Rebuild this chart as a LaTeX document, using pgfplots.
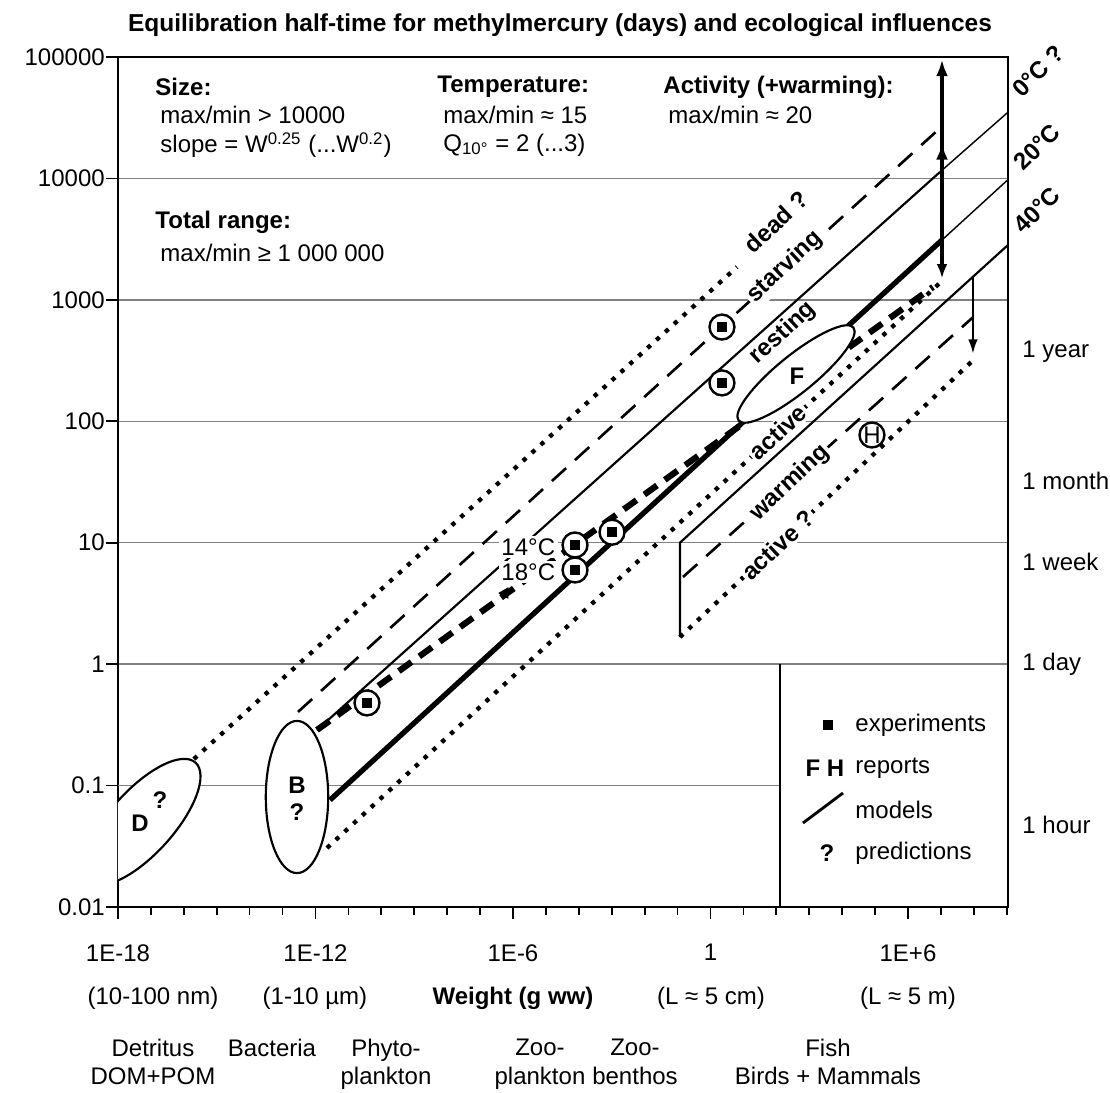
\documentclass[border=0pt]{standalone}
\usepackage{fontspec}
\setmainfont{Liberation Sans}
\usepackage{pgfplots}
\pgfplotsset{compat=1.18}
\usetikzlibrary{arrows.meta}

\definecolor{gridgray}{gray}{0.5}

\tikzset{
  px/.style={x=0.416667pt, y=-0.416667pt, shift={(-49.1667pt,377.9167pt)}},
  dotline/.style={line width=1.8pt, dash pattern=on 1.8pt off 3.2pt},
  dashline/.style={line width=1.1pt, dash pattern=on 8pt off 5pt},
  thickdash/.style={line width=2.6pt, dash pattern=on 6.5pt off 4pt},
  thinline/.style={line width=0.9pt},
  thickline/.style={line width=2.2pt},
  linelabel/.style={font=\bfseries, rotate=43, fill=white, inner sep=1pt},
  txt/.style={anchor=west, inner sep=0pt},
}

\begin{document}
\begin{tikzpicture}[font=\fontsize{10}{12}\selectfont]
\path[px, use as bounding box] (0,0) rectangle (1110,1093);

\begin{axis}[
  scale only axis, width=370.833pt, height=354.167pt,
  xmode=log, ymode=log,
  xmin=1e-18, xmax=1.09e9, ymin=0.01, ymax=1e5,
  xtick={1e-18,1e-12,1e-6,1,1e6},
  xticklabels={1E-18,1E-12,1E-6,1,1E+6},
  minor xtick={1e-17,1e-16,1e-15,1e-14,1e-13,1e-11,1e-10,1e-9,1e-8,1e-7,
    1e-5,1e-4,1e-3,1e-2,1e-1,1e1,1e2,1e3,1e4,1e5,1e7,1e8,1e9},
  ytick={0.01,1,10,100,1000,10000,100000},
  yticklabels={0.01,1,10,100,1000,10000,100000},
  extra y ticks={0.1}, extra y tick labels={0.1},
  extra y tick style={grid=none},
  yminorticks=false,
  tick pos=left,
  ymajorgrids=true, grid style={gridgray, line width=0.6pt},
  tick align=outside, major tick length=5pt, minor tick length=3.5pt,
  tick style={black, line width=0.7pt},
  axis line style={black, line width=0.9pt},
  ticklabel style={font=\fontsize{10}{12}\selectfont},
  xticklabel style={yshift=-7pt},
  yticklabel style={xshift=3pt},
  xlabel={\textbf{Weight (g ww)}},
  xlabel style={at={(axis description cs:0.4438,0)}, anchor=center, yshift=-37.9pt},
  clip=false,
]

% partial grid line at 0.1 and legend box divider
\addplot[gridgray, line width=0.6pt] coordinates {(1e-18,0.1) (129.5,0.1)};
\addplot[black, line width=0.8pt] coordinates {(129.5,0.01) (129.5,1)};

% dead ? (dotted)
\addplot[black, dotline] coordinates {(1.084e-16,0.142) (6.38,1864)};
% starving (dashed)
\addplot[black, dashline] coordinates {(2.94e-13,0.404) (9.38e6,25940)};
% resting (thin solid) and 0 C continuation
\addplot[black, thinline] coordinates {(1.11e-12,0.287) (9.38e6,11300)};
\addplot[black, line width=0.6pt] coordinates {(9.38e6,11300) (1.09e9,35100)};
% experiments, slope W^0.2 (thick dashed)
\addplot[black, thickdash] coordinates {(1.11e-12,0.287) (5.74e6,1276)};
% model, W^0.25 (thick solid) and 20 C continuation
\addplot[black, thickline] coordinates {(2.76e-12,0.076) (1.08e7,3112)};
\addplot[black, line width=0.6pt] coordinates {(1.08e7,3112) (1.09e9,9770)};
% active (dotted)
\addplot[black, dotline] coordinates {(2.23e-12,0.0306) (1.16e7,1456)};
% warming group
\addplot[black, thinline] coordinates {(0.118,1.67) (0.118,10) (1.09e9,2830)};
\addplot[black, dashline] coordinates {(0.146,5.22) (9.4e7,718)};
\addplot[black, dotline] coordinates {(0.118,1.67) (9.4e7,317)};

% arrows
\addplot[black, line width=1.6pt, -{Latex[length=7pt,width=5pt]}] coordinates {(1.08e7,3112) (1.08e7,95500)};
\addplot[black, line width=1.6pt, -{Latex[length=7pt,width=5pt]}] coordinates {(1.08e7,3112) (1.08e7,19600)};
\addplot[black, line width=1.6pt, -{Latex[length=6pt,width=4.5pt]}] coordinates {(1.08e7,3112) (1.08e7,1500)};
\addplot[black, line width=0.9pt, -{Latex[length=6pt,width=4pt]}] coordinates {(9.4e7,1538) (9.4e7,360)};

% experiments (circled squares) and report H
\addplot[only marks, mark=*, mark size=5.2pt, mark options={fill=white, draw=black, line width=1pt}]
  coordinates {(2.23,597) (2.23,207) (3.67e-11,0.479) (7.66e-5,9.58) (7.66e-5,5.96) (1.02e-3,12.2) (80500,77.1)};
\addplot[only marks, mark=square*, mark size=1.8pt, black]
  coordinates {(2.23,597) (2.23,207) (3.67e-11,0.479) (7.66e-5,9.58) (7.66e-5,5.96) (1.02e-3,12.2)};
\addplot[only marks, mark=triangle*, mark size=2.4pt, black, mark options={rotate=90}]
  coordinates {(5.71e-7,3.85)};
\end{axis}

\begin{scope}[px]
% ellipses
\begin{scope}
\clip (118,57) rectangle (1008,907);
\draw[fill=white, line width=0.9pt, rotate around={48:(142,822)}] (142,822) ellipse [x radius=33.3pt, y radius=13.3pt];
\end{scope}
\draw[fill=white, line width=0.9pt] (297,797) ellipse [x radius=13pt, y radius=31.7pt];
\draw[fill=white, line width=0.9pt, rotate around={39:(796,374)}] (796,374) ellipse [x radius=30.8pt, y radius=7.8pt];
\node[font=\bfseries] at (140,823) {D};
\node[font=\bfseries] at (160,800) {?};
\node[font=\bfseries] at (297,785) {B};
\node[font=\bfseries] at (297,812) {?};
\node[font=\bfseries] at (797,376) {F};
\node at (872,435) {H};

% title
\node[font=\bfseries\fontsize{10.2}{12}\selectfont] at (560,25)
  {Equilibration half-time for methylmercury (days) and ecological influences};

% header texts
\node[txt, font=\bfseries] at (155,87) {Size:};
\node[txt] at (160,115) {max/min > 10000};
\node[txt] at (160,145) {slope = W\textsuperscript{0.25} (...W\textsuperscript{0.2})};
\node[txt, font=\bfseries] at (437,87) {Temperature:};
\node[txt] at (443,115) {max/min ≈ 15};
\node[txt] at (443,145) {Q\textsubscript{10°} = 2 (...3)};
\node[txt, font=\bfseries] at (663,87) {Activity (+warming):};
\node[txt] at (668,115) {max/min ≈ 20};
\node[txt, font=\bfseries] at (155,222) {Total range:};
\node[txt] at (160,253) {max/min ≥ 1 000 000};

% line labels
\node[linelabel] at (776,222) {dead ?};
\node[linelabel] at (785,267) {starving};
\node[font=\bfseries, rotate=43, inner sep=1pt] at (783,333) {resting};
\node[linelabel] at (778,432) {active};
\node[linelabel] at (790,483) {warming};
\node[linelabel] at (778,545) {active ?};
\node[anchor=east, fill=white, inner sep=1pt] at (558,547) {14°C};
\node[anchor=east, fill=white, inner sep=1pt] at (558,572) {18°C};

% temperature labels
\node[font=\bfseries, rotate=45] at (1038,71) {0°C ?};
\node[font=\bfseries, rotate=45] at (1037,147) {20°C};
\node[font=\bfseries, rotate=45] at (1037,210) {40°C};

% time labels
\node[txt] at (1022,352) {1 year};
\node[txt] at (1022,481) {1 month};
\node[txt] at (1022,562) {1 week};
\node[txt] at (1022,664) {1 day};
\node[txt] at (1022,825) {1 hour};

% legend
\fill (823,720) rectangle (833,730);
\node[txt] at (855,725) {experiments};
\node[font=\bfseries] at (825,768) {F H};
\node[txt] at (855,768) {reports};
\draw[line width=1.2pt] (803,823) -- (843,793);
\node[txt] at (855,810) {models};
\node[font=\bfseries] at (827,853) {?};
\node[txt] at (855,853) {predictions};

% size classes under the axis
\node at (153,998) {(10-100 nm)};
\node at (315,998) {(1-10 µm)};
\node at (711,998) {(L ≈ 5 cm)};
\node at (908,998) {(L ≈ 5 m)};
\begin{scope}[every node/.style={anchor=north, align=center, inner sep=0pt, font=\fontsize{10}{11.7}\selectfont}]
\node at (153,1039) {Detritus\\DOM+POM};
\node at (272,1039) {Bacteria};
\node at (386,1039) {Phyto-\\plankton};
\node at (540,1039) {Zoo-\\plankton};
\node at (635,1039) {Zoo-\\benthos};
\node at (828,1039) {Fish\\Birds + Mammals};
\end{scope}
\end{scope}
\end{tikzpicture}
\end{document}
